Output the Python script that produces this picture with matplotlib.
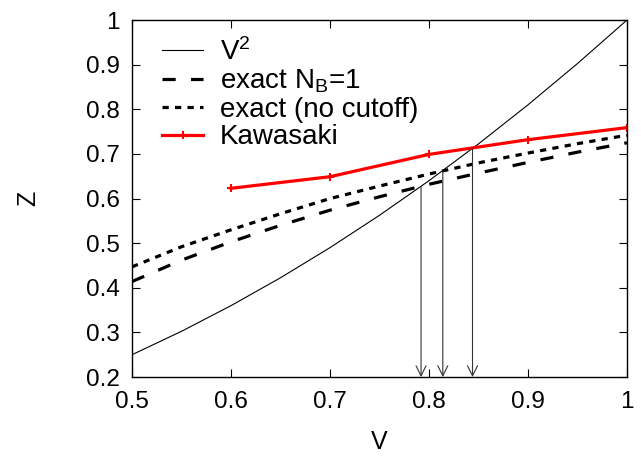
import matplotlib
matplotlib.use("Agg")
import matplotlib.pyplot as plt

plt.rcParams['font.family'] = ['Liberation Sans', 'DejaVu Sans']
plt.rcParams['mathtext.default'] = 'regular'
plt.rcParams['lines.scale_dashes'] = False

# V^2 curve
v_sq = [0.5, 0.55, 0.6, 0.65, 0.7, 0.75, 0.8, 0.85, 0.9, 0.95, 1.0]
z_sq = [0.25, 0.3025, 0.36, 0.4225, 0.49, 0.5625, 0.64, 0.7225, 0.81, 0.9025, 1.0]

# exact N_B=1
v_ex = [0.5, 0.55, 0.6, 0.65, 0.7, 0.75, 0.8, 0.85, 0.9, 0.95, 1.0]
z_nb1 = [0.414, 0.462, 0.503, 0.540, 0.574, 0.604, 0.632, 0.657, 0.681, 0.704, 0.725]
# exact (no cutoff)
z_nocut = [0.447, 0.492, 0.530, 0.566, 0.600, 0.628, 0.655, 0.680, 0.702, 0.723, 0.742]

# Kawasaki
v_kaw = [0.6, 0.7, 0.8, 0.9, 1.0]
z_kaw = [0.623, 0.649, 0.699, 0.732, 0.759]

# crossing points marked with arrows
cross_v = [0.792, 0.814, 0.844]
cross_z = [0.627, 0.662, 0.712]

fig = plt.figure(figsize=(6.41, 4.57), dpi=100)
ax = fig.add_axes([0.206, 0.175, 0.772, 0.781])

ax.plot(v_sq, z_sq, color='black', lw=0.8, label='V$^2$')
ax.plot(v_ex, z_nb1, color='black', lw=2.3, dashes=(9.5, 11), label='exact N$_B$=1')
ax.plot(v_ex, z_nocut, color='black', lw=2.3, dashes=(4.5, 4.5), label='exact (no cutoff)')
ax.plot(v_kaw, z_kaw, color='red', lw=2.3, marker='+', ms=6, mew=1.5, label='Kawasaki')

for cv, cz in zip(cross_v, cross_z):
    ax.annotate('', xy=(cv, 0.2), xytext=(cv, cz),
                arrowprops=dict(arrowstyle='->', color='#333333', lw=0.8,
                                mutation_scale=18, shrinkA=0, shrinkB=0))

ax.set_xlim(0.5, 1.0)
ax.set_ylim(0.2, 1.0)
ax.set_xticks([0.5, 0.6, 0.7, 0.8, 0.9, 1.0])
ax.set_xticklabels(['0.5', '0.6', '0.7', '0.8', '0.9', '1'])
ax.set_yticks([0.2, 0.3, 0.4, 0.5, 0.6, 0.7, 0.8, 0.9, 1.0])
ax.set_yticklabels(['0.2', '0.3', '0.4', '0.5', '0.6', '0.7', '0.8', '0.9', '1'])
ax.tick_params(direction='in', length=6, width=0.8, top=True, right=True,
               labelsize=17.5)
ax.tick_params(axis='x', pad=10)
ax.tick_params(axis='y', pad=9)
for s in ax.spines.values():
    s.set_linewidth(1.0)

ax.set_xlabel('V', fontsize=18, labelpad=12)
ax.set_ylabel('Z', fontsize=18, labelpad=33)

ax.legend(loc='upper left', bbox_to_anchor=(0.06, 0.95), frameon=False,
          fontsize=20, handlelength=1.5, handletextpad=0.6, labelspacing=0.06,
          borderaxespad=0.0, borderpad=0.0)

fig.savefig('out.png', dpi=100)
